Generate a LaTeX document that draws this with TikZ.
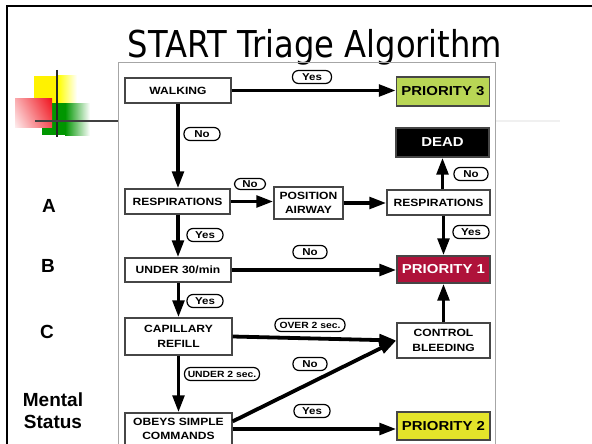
\documentclass[tikz,border=0pt]{standalone}
\usepackage{fontspec}
\usepackage{graphicx}
\setmainfont{Liberation Sans}
\newfontfamily\titlefont{DejaVu Sans}
\usetikzlibrary{arrows.meta,shadings}

% widened lettering used inside the flowchart
\newcommand{\wide}[1]{\scalebox{1.15}[1]{#1}}

\definecolor{prithree}{RGB}{185,214,85}
\definecolor{prione}{RGB}{175,18,58}
\definecolor{pritwo}{RGB}{228,228,42}
\definecolor{boxedge}{RGB}{70,70,70}
\definecolor{bulletgreen}{RGB}{0,150,0}
\definecolor{bulletred}{RGB}{240,20,30}

\begin{document}
\begin{tikzpicture}[x=1pt,y=-1pt,
  stepbox/.style={draw=boxedge, line width=1.3pt, fill=white, inner sep=0pt,
    align=center, font=\fontsize{10.5}{14.5}\selectfont\bfseries},
  pribox/.style={draw=boxedge, line width=1.3pt, inner sep=0pt,
    minimum width=93pt, font=\fontsize{13}{15}\selectfont\bfseries},
  tag/.style={draw=black, line width=1.2pt, fill=white, rounded corners=6pt,
    inner xsep=3pt, inner ysep=0pt, minimum height=13pt, minimum width=36pt,
    font=\fontsize{10}{11}\selectfont\bfseries},
  flow/.style={line width=3.8pt, -{Triangle[length=17pt,width=11.5pt]}},
  side/.style={font=\fontsize{19}{22}\selectfont\bfseries, align=center}
]
\useasboundingbox (0,0) rectangle (592,444);
\fill[white] (0,0) rectangle (592,444);

% slide frame
\draw[line width=2.6pt] (7,444) -- (7,6) -- (592,6);

% title
\node[anchor=base, inner sep=0pt, font=\titlefont\fontsize{37}{40}\selectfont] (title) at (315,58)
  {\scalebox{0.87}[1]{START Triage Algorithm}};

% bullet ornament
\fill[yellow] (34,76) rectangle (58,104);
\shade[left color=yellow, right color=white] (58,76) rectangle (77,104);
\fill[bulletgreen] (42,103) rectangle (65,135);
\shade[left color=bulletgreen, right color=white] (65,103) rectangle (90,135);
\shade[upper right=bulletred, upper left=bulletred!35, lower right=bulletred!75, lower left=bulletred!8]
  (15,99) rectangle (52,127);
\draw[line width=2pt, black!85] (57,70) -- (57,137);
\draw[line width=2pt, black!75] (35,121) -- (118,121);
\draw[line width=2pt, black!6] (495,121) -- (560,121);

% picture panel
\draw[black!35, line width=0.8pt] (118,450) -- (118,62) -- (495,62) -- (495,450);

% side labels
\node[side] (lblA) at (49,206) {A};
\node[side] (lblB) at (48,266) {B};
\node[side] (lblC) at (47,332) {C};
\node[side] (lblM) at (53,411) {Mental\\Status};

% flowchart boxes
\node[stepbox, minimum width=106pt, minimum height=25pt] (walk) at (178,90.5) {\wide{WALKING}};
\node[pribox, fill=prithree, minimum height=29pt] (p3) at (443,91.5) {\wide{PRIORITY 3}};
\node[pribox, fill=black, text=white, minimum height=29pt] (dead) at (442.5,142.5) {\wide{DEAD}};
\node[stepbox, minimum width=105pt, minimum height=25pt] (resp1) at (177.5,201.5) {\wide{RESPIRATIONS}};
\node[stepbox, minimum width=69pt, minimum height=32pt] (pos) at (308.5,203) {\wide{POSITION}\\\wide{AIRWAY}};
\node[stepbox, minimum width=103pt, minimum height=25pt] (resp2) at (438.5,202.5) {\wide{RESPIRATIONS}};
\node[stepbox, minimum width=106pt, minimum height=24pt] (under) at (178,270) {\wide{UNDER 30/min}};
\node[pribox, fill=prione, text=white, minimum height=27pt] (p1) at (443.5,269.5) {\wide{PRIORITY 1}};
\node[stepbox, minimum width=107pt, minimum height=37pt] (cap) at (178.5,336.5) {\wide{CAPILLARY}\\\wide{REFILL}};
\node[stepbox, minimum width=93pt, minimum height=35pt] (cb) at (443.5,340.5) {\wide{CONTROL}\\\wide{BLEEDING}};
\node[stepbox, minimum width=107pt, minimum height=32pt] (obeys) at (178.5,429) {\wide{OBEYS SIMPLE}\\\wide{COMMANDS}};
\node[pribox, fill=pritwo, minimum height=28pt] (p2) at (443.5,426) {\wide{PRIORITY 2}};

% connectors
\draw[flow] (walk.east) -- (walk.east -| p3.west);
\draw[flow] (walk.south) -- (walk.south |- resp1.north);
\draw[flow] (resp1.east) -- (resp1.east -| pos.west);
\draw[flow] (pos.east) -- (pos.east -| resp2.west);
\draw[flow] (dead.south |- resp2.north) -- (dead.south);
\draw[flow] (resp2.south -| p1.north) -- (p1.north);
\draw[flow] (resp1.south -| under.north) -- (under.north);
\draw[flow] (under.east) -- (under.east -| p1.west);
\draw[flow] (under.south -| cap.north) -- (cap.north);
\draw[flow] (cap.east) -- (cb.west);
\draw[flow] (cb.north) -- (cb.north |- p1.south);
\draw[flow] (cap.south -| obeys.north) -- (obeys.north);
\draw[flow] (obeys.8) -- (cb.west);
\draw[flow] (obeys.east) -- (obeys.east -| p2.west);

% answer tags
\node[tag, minimum width=39pt] (tYes1) at (312,77) {\wide{Yes}};
\node[tag] (tNo1) at (202,134) {\wide{No}};
\node[tag, minimum width=31pt, minimum height=11pt] (tNo2) at (250,184) {\wide{No}};
\node[tag, minimum width=34pt] (tNo3) at (471,174) {\wide{No}};
\node[tag] (tYes2) at (205,235) {\wide{Yes}};
\node[tag] (tYes3) at (471,232) {\wide{Yes}};
\node[tag, minimum width=34pt] (tNo4) at (310,252) {\wide{No}};
\node[tag] (tYes4) at (205,301) {\wide{Yes}};
\node[tag, minimum width=70pt] (tOver) at (310,325) {\wide{\fontsize{9}{10}\selectfont OVER 2 sec.}};
\node[tag, minimum width=34pt] (tNo5) at (310,364) {\wide{No}};
\node[tag, minimum width=75pt] (tUnder) at (222,374) {\wide{\fontsize{9}{10}\selectfont UNDER 2 sec.}};
\node[tag] (tYes5) at (312,411) {\wide{Yes}};
\end{tikzpicture}
\end{document}
